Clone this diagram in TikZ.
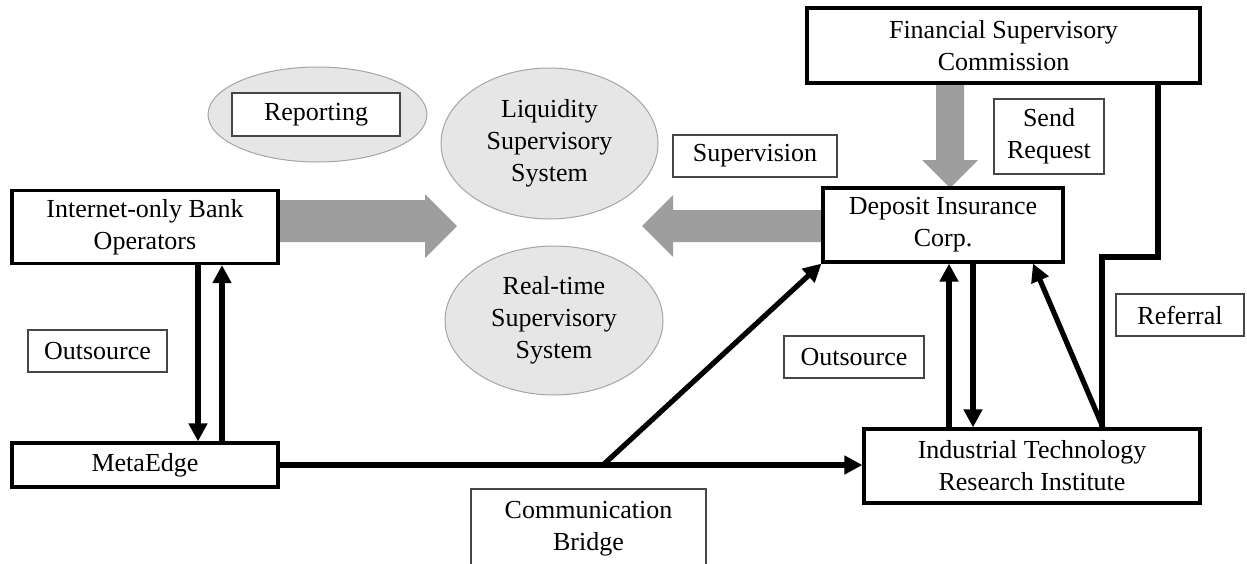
\documentclass[tikz,border=0pt]{standalone}
\usepackage{fontspec}
\setmainfont{Liberation Serif}
\usetikzlibrary{arrows.meta,shapes.geometric}
\definecolor{arrowgray}{RGB}{158,158,158}
\definecolor{ellfill}{RGB}{230,230,230}
\definecolor{ellline}{RGB}{165,165,165}
\definecolor{lblline}{RGB}{70,70,70}
\begin{document}
\begin{tikzpicture}[x=0.5pt,y=-0.5pt,
  every node/.style={font=\fontsize{13}{16}\selectfont, align=center, inner sep=0pt},
  mainbox/.style={draw=black, line width=1.6pt, fill=white},
  lblbox/.style={draw=lblline, line width=0.6pt, fill=white},
  ell/.style={ellipse, draw=ellline, line width=0.5pt, fill=ellfill},
  conn/.style={line width=2.6pt, draw=black, line join=miter},
  tip/.style={-{Triangle[length=9pt,width=9pt]}},
  bigarrow/.style={fill=arrowgray, draw=none}]
\useasboundingbox (0,0) rectangle (1247,563);

% ellipses
\node[ell, minimum width=109.5pt, minimum height=47.5pt] (repE) at (317.5,114.5) {};
\node[ell, minimum width=108.5pt, minimum height=75.5pt] (liq) at (549.5,143.5) {Liquidity\\Supervisory\\System};
\node[ell, minimum width=109pt, minimum height=74.5pt] (rt) at (554,320.5) {Real-time\\Supervisory\\System};

% large gray arrows
\fill[bigarrow] (277,200) -- (425,200) -- (425,194) -- (457,226) -- (425,258) -- (425,242) -- (277,242) -- cycle;
\fill[bigarrow] (823,210) -- (673,210) -- (673,195) -- (642,226) -- (673,257) -- (673,242) -- (823,242) -- cycle;
\fill[bigarrow] (936,83) -- (964,83) -- (964,160) -- (978,160) -- (950,188) -- (922,160) -- (936,160) -- cycle;

% main boxes
\node[mainbox, minimum width=133pt, minimum height=36.5pt] (ib) at (145,227) {Internet-only Bank\\Operators};
\node[mainbox, minimum width=133pt, minimum height=22pt] (me) at (145,465) {MetaEdge};
\node[mainbox, minimum width=196.5pt, minimum height=37.5pt] (fsc) at (1003.5,45.5) {Financial Supervisory\\Commission};
\node[mainbox, minimum width=120pt, minimum height=37pt] (dic) at (943,225) {Deposit Insurance\\Corp.};
\node[mainbox, minimum width=168pt, minimum height=37pt] (itri) at (1032,466) {Industrial Technology\\Research Institute};

% label boxes
\node[lblbox, minimum width=84pt, minimum height=21.5pt] (rep) at (316,114.5) {Reporting};
\node[lblbox, minimum width=82pt, minimum height=21pt] (sup) at (755,156) {Supervision};
\node[lblbox, minimum width=55pt, minimum height=37.5pt] (send) at (1049,136.5) {Send\\Request};
\node[lblbox, minimum width=69.5pt, minimum height=21pt] (out1) at (97.5,351) {Outsource};
\node[lblbox, minimum width=70pt, minimum height=21pt] (out2) at (854,357) {Outsource};
\node[lblbox, minimum width=64pt, minimum height=21pt] (ref) at (1180,315) {Referral};
\draw[lblline, line width=0.6pt] (471,566) -- (471,489) -- (706,489) -- (706,566);
\node (comm) at (588.5,528.5) {Communication\\Bridge};

% helper coordinates
\coordinate (xa) at (198,0);
\coordinate (xb) at (222,0);
\coordinate (xc) at (949,0);
\coordinate (xd) at (973,0);
\coordinate (xe) at (1103,0);
\coordinate (xf) at (1033,0);
\coordinate (xg) at (1158,0);
\coordinate (xh) at (1102,0);
\coordinate (br) at (603,465);
\coordinate (jog) at (1130,257);

% connectors
\draw[conn,tip] (ib.south -| xa) -- (me.north -| xa);
\draw[conn,tip] (me.north -| xb) -- (ib.south -| xb);
\draw[conn,tip] (me.east) -- (me.east -| itri.west);
\draw[conn,tip] (br) -- (dic.south west);
\draw[conn,tip] (itri.north -| xc) -- (dic.south -| xc);
\draw[conn,tip] (dic.south -| xd) -- (itri.north -| xd);
\draw[conn,tip] (itri.north -| xe) -- (dic.south -| xf);
\draw[conn] (fsc.south -| xg) |- (jog) -| (itri.north -| xh);
\end{tikzpicture}
\end{document}
